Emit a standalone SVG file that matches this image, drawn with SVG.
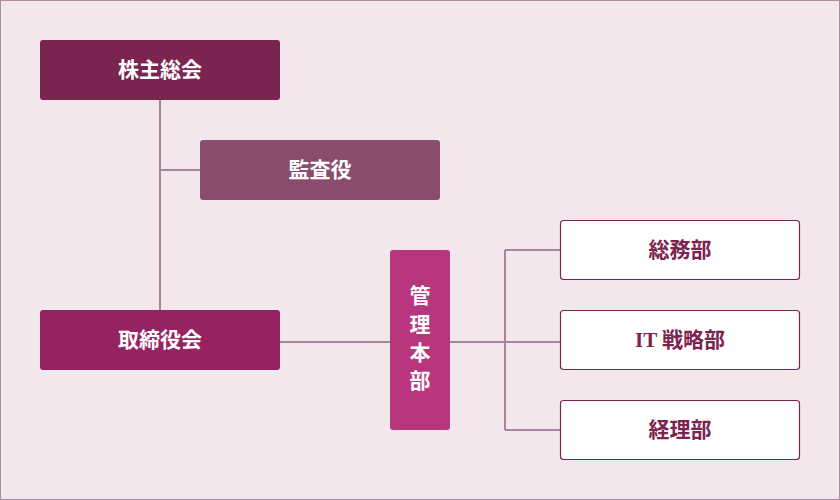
<svg xmlns="http://www.w3.org/2000/svg" width="840" height="500" viewBox="0 0 840 500">
<style>
.t{font-family:"Liberation Serif","Noto Sans CJK JP",serif;font-weight:bold;font-size:21px;text-anchor:middle;dominant-baseline:central}
.w{fill:#ffffff}
.d{fill:#7b2450}
.box{fill:#ffffff;stroke:#7b2450;stroke-width:1.2}
.ln{stroke:#ab839f;stroke-width:2;fill:none}
</style>
<rect x="0.5" y="0.5" width="839" height="499" fill="#f2e8ec" stroke="#b08aa0" stroke-width="1"/>
<g id="connectors">
<path class="ln" d="M160 100V310M160 170H200M280 342H390M450 342H560M505 250V430M505 250H560M505 430H560"/>
</g>
<g id="n1"><rect x="40" y="40" width="240" height="60" rx="3" fill="#7b2450"/><text class="t w" x="160" y="70">株主総会</text></g>
<g id="n2"><rect x="200" y="140" width="240" height="60" rx="3" fill="#894c6c"/><text class="t w" x="320" y="170">監査役</text></g>
<g id="n3"><rect x="40" y="310" width="240" height="60" rx="3" fill="#962361"/><text class="t w" x="160" y="340">取締役会</text></g>
<g id="n4"><rect x="390" y="250" width="60" height="180" rx="3" fill="#b8377c"/>
<text class="t w" x="420" y="296">管</text><text class="t w" x="420" y="325">理</text><text class="t w" x="420" y="353">本</text><text class="t w" x="420" y="381">部</text></g>
<g id="n5"><rect class="box" x="560.5" y="220.5" width="239" height="59" rx="3"/><text class="t d" x="680" y="250">総務部</text></g>
<g id="n6"><rect class="box" x="560.5" y="310.5" width="239" height="59" rx="3"/><text class="t d" x="680" y="340">IT 戦略部</text></g>
<g id="n7"><rect class="box" x="560.5" y="400.5" width="239" height="59" rx="3"/><text class="t d" x="680" y="430">経理部</text></g>
</svg>
